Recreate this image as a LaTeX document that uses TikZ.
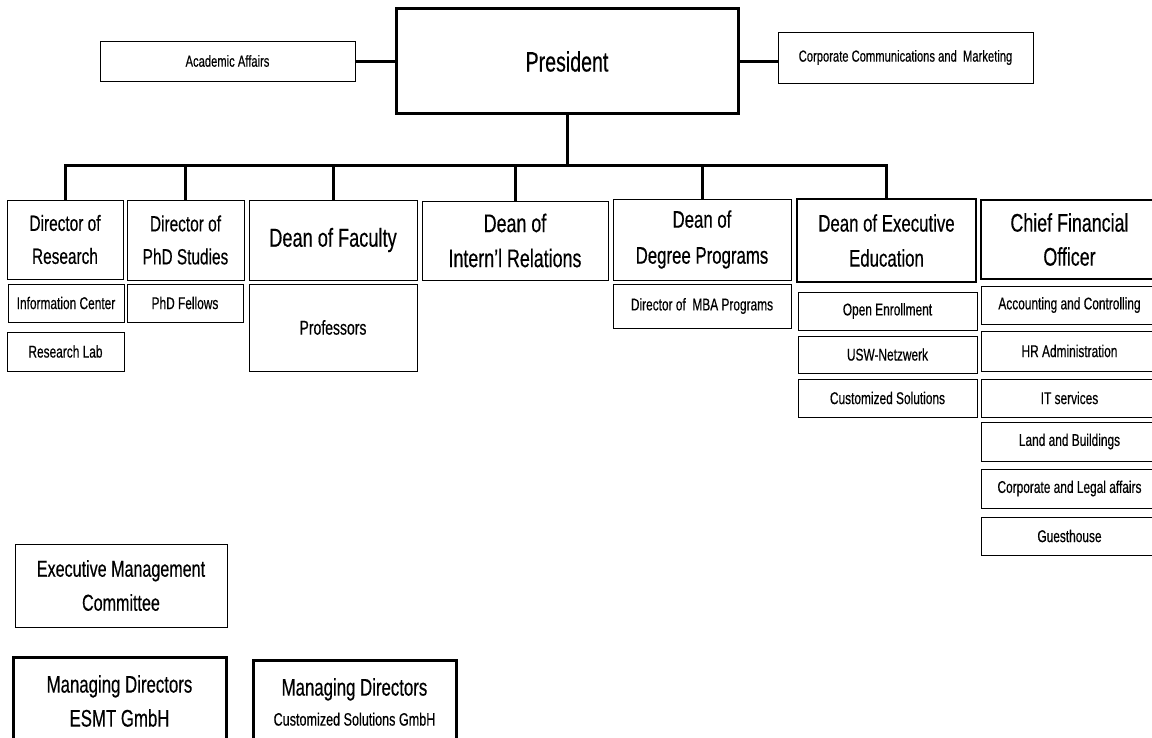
\documentclass[tikz,border=0pt]{standalone}
\usepackage{fontspec}
\setmainfont{Liberation Sans}[FakeStretch=0.7, FakeBold=0.4]
\newcommand{\sizefont}[2]{\fontsize{#1}{#2}\selectfont}

\begin{document}
\begin{tikzpicture}[x=1pt,y=-1pt,
  unit/.style={draw, line width=0.9pt, inner sep=0pt, align=center, font=\sizefont{17}{20}},
  head/.style={unit, font=\sizefont{24}{34}},
  keyunit/.style={head, line width=2.5pt},
  link/.style={line width=3pt}]
\useasboundingbox (0,0) rectangle (1152,738);

% Top row
\node[unit, line width=3pt, minimum width=342, minimum height=105, font=\sizefont{28}{34}] (pres) at (567,61.5) {President};
\node[unit, minimum width=255, minimum height=40, font=\sizefont{16}{20}] (acad) at (227.5,61) {Academic Affairs};
\node[unit, minimum width=255, minimum height=51, font=\sizefont{16}{20}] (corp) at (905.5,57.5) {Corporate Communications and\ \ Marketing};

% Second row
\node[head, minimum width=116, minimum height=79, font=\sizefont{22}{33}] (dres) at (65,239.5) {Director of\\Research};
\node[head, minimum width=117, minimum height=80, font=\sizefont{22}{33}] (dphd) at (185.5,240) {Director of\\PhD Studies};
\node[head, minimum width=168, minimum height=80, font=\sizefont{26}{34}] (fac) at (333,240) {Dean of Faculty};
\node[head, minimum width=186, minimum height=79, font=\sizefont{25.5}{35}] (intl) at (515,240.5) {Dean of\\Intern’l Relations};
\node[head, minimum width=178, minimum height=81, font=\sizefont{24}{36}] (deg) at (702,239.5) {Dean of\\Degree Programs};
\node[keyunit, minimum width=179, minimum height=83, font=\sizefont{24}{35}] (exec) at (886.5,240.5) {Dean of Executive\\Education};
\node[keyunit, minimum width=177, minimum height=79, font=\sizefont{25.5}{34}] (cfo) at (1069.5,239.5) {Chief Financial\\Officer};

% Units below
\node[unit, minimum width=116, minimum height=38] (infoc) at (66,303) {Information Center};
\node[unit, minimum width=117, minimum height=39] (rlab) at (65.5,351.5) {Research Lab};
\node[unit, minimum width=116, minimum height=38] (phdf) at (185,303) {PhD Fellows};
\node[unit, minimum width=168, minimum height=87, font=\sizefont{20}{24}] (prof) at (333,327.5) {Professors};
\node[unit, minimum width=178, minimum height=44] (mba) at (702,306) {Director of\ \ MBA Programs};
\node[unit, minimum width=179, minimum height=38] (openr) at (887.5,311) {Open Enrollment};
\node[unit, minimum width=179, minimum height=37] (usw) at (887.5,354.5) {USW-Netzwerk};
\node[unit, minimum width=179, minimum height=38] (cust) at (887.5,398) {Customized Solutions};
\node[unit, minimum width=177, minimum height=38] (acct) at (1069.5,305) {Accounting and Controlling};
\node[unit, minimum width=177, minimum height=40] (hr) at (1069.5,351) {HR Administration};
\node[unit, minimum width=177, minimum height=38] (its) at (1069.5,398) {IT services};
\node[unit, minimum width=177, minimum height=39] (land) at (1069.5,441.5) {Land and Buildings};
\node[unit, minimum width=177, minimum height=39] (legal) at (1069.5,488.5) {Corporate and Legal affairs};
\node[unit, minimum width=177, minimum height=38] (guest) at (1069.5,536) {Guesthouse};

% Committees and subsidiaries
\node[head, minimum width=212, minimum height=83, font=\sizefont{23}{34}] (emc) at (121,585.5) {Executive Management\\Committee};
\node[head, line width=3pt, minimum width=213, minimum height=88, font=\sizefont{24}{34}] (mdesmt) at (119.5,701) {Managing Directors\\ESMT GmbH};
\node[head, line width=3pt, minimum width=203, minimum height=84, font=\sizefont{24}{30}] (mdcs) at (354.5,702) {Managing Directors\\{\sizefont{18}{30}Customized Solutions GmbH}};

% Connectors
\coordinate (bus) at (0,166);
\draw[link] (pres.west) -- (pres.west -| acad.east);
\draw[link] (pres.east) -- (pres.east -| corp.west);
\draw[link] (pres.south) -- (pres.south |- bus);
\draw[link] (dres.north) -- (dres.north |- bus) -- (exec.north |- bus) -- (exec.north);
\foreach \n in {dphd,fac,intl,deg}
  \draw[link] (\n.north) -- (\n.north |- bus);
\end{tikzpicture}
\end{document}
